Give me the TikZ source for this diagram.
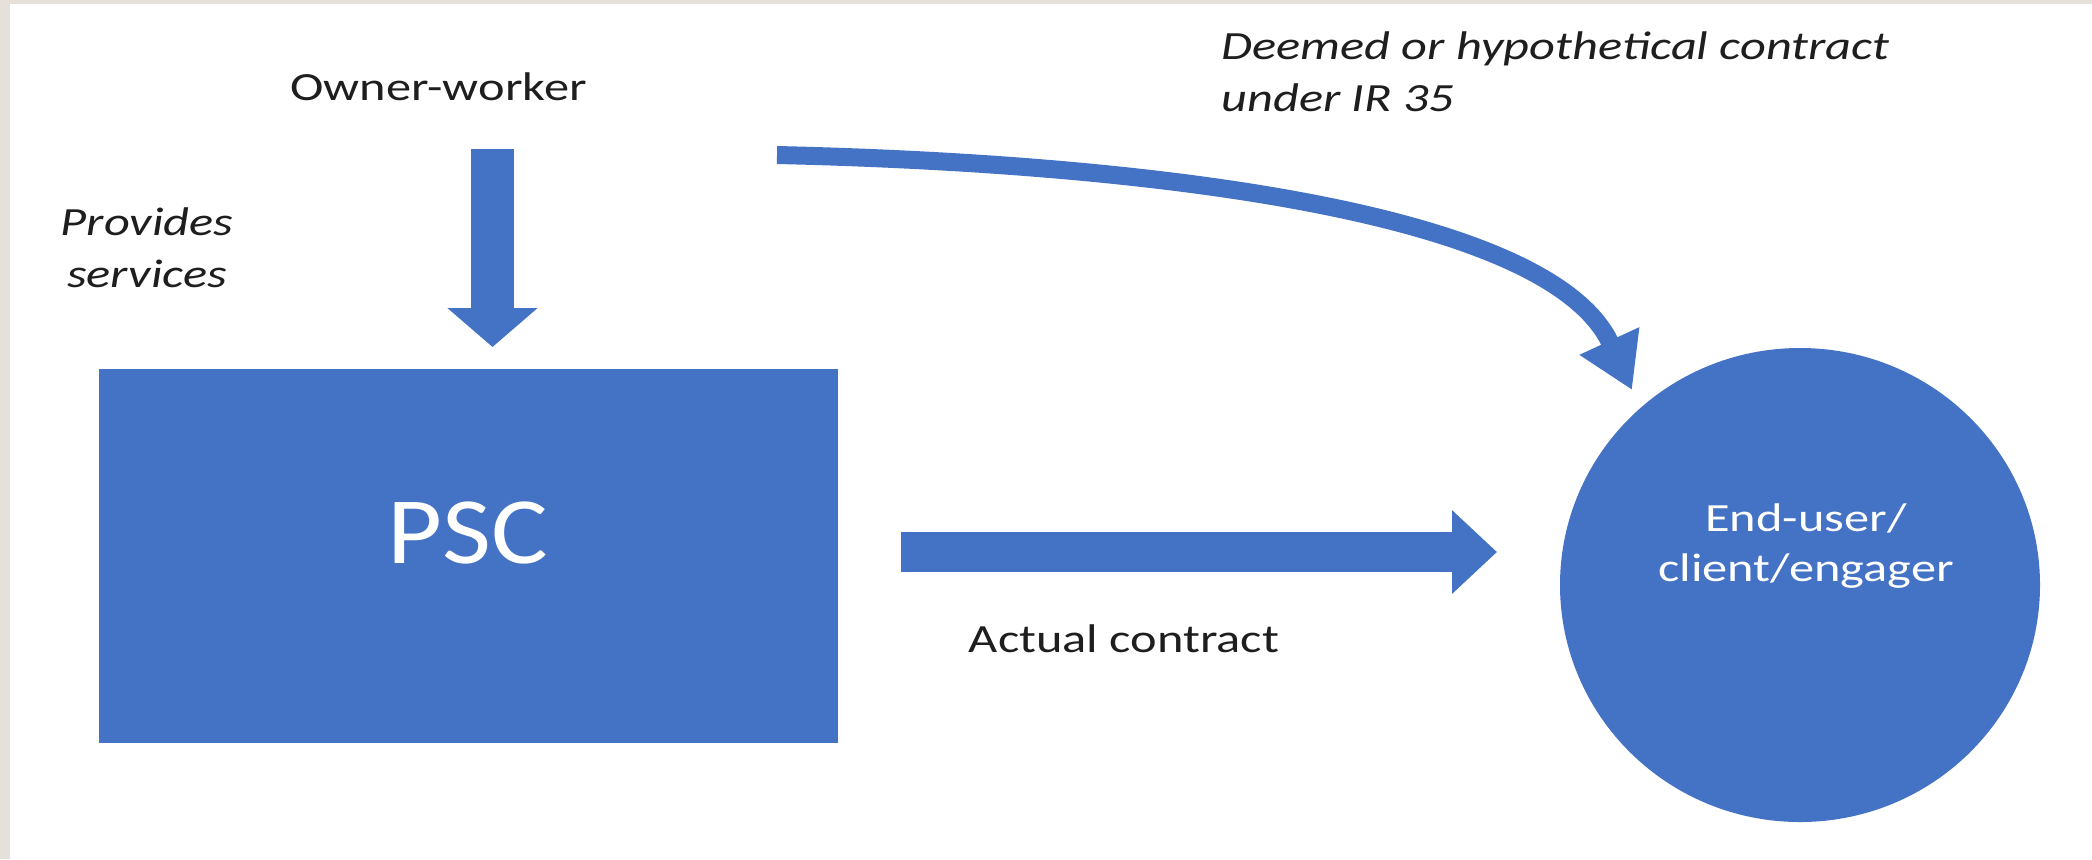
\documentclass[tikz,border=0pt]{standalone}
\usepackage{fontspec}
\setmainfont{Carlito}
\newfontfamily\lblfont[FakeStretch=1.26]{Carlito}
\newfontfamily\pscfont[FakeStretch=1.12]{Carlito}
\usetikzlibrary{arrows.meta,shapes.geometric}
\definecolor{officeblue}{HTML}{4472C4}
\definecolor{edgebeige}{HTML}{E6E0DA}
\definecolor{labelink}{HTML}{1E1E1E}
\begin{document}
\begin{tikzpicture}[x=0.5pt,y=-0.5pt,
  lbl/.style={font=\lblfont\fontsize{20pt}{26pt}\selectfont, text=labelink, inner sep=0pt},
  ilbl/.style={lbl, font=\lblfont\itshape\fontsize{20pt}{26pt}\selectfont},
  inlbl/.style={font=\lblfont\fontsize{20pt}{25pt}\selectfont, text=white, inner sep=0pt},
  blockarrow/.style={draw=officeblue, line cap=butt},
  shapefill/.style={fill=officeblue, draw=none, inner sep=0pt}]
\useasboundingbox (0,0) rectangle (2092,859);
\fill[white] (0,0) rectangle (2092,859);
\fill[edgebeige] (0,0) rectangle (10,859);
\fill[edgebeige] (0,0) rectangle (2092,4);

% shapes
\node[shapefill, rectangle, minimum width=369.5pt, minimum height=187pt] (psc) at (468.5,556) {};
\node[font=\pscfont\fontsize{47.5pt}{57pt}\selectfont, text=white, inner sep=0pt, anchor=base] (psctext) at (467.5,563) {PSC};
\node[shapefill, ellipse, minimum width=240pt, minimum height=237pt] (client) at (1800,585) {};
\node[inlbl, align=center] (clienttext) at (1806,546) {End-user/\\client/engager};

% labels
\node[lbl, anchor=base] (owner) at (438.5,100) {Owner-worker};
\node[ilbl, align=center, anchor=base] (provides) at (147,287) {Provides\\services};
\node[ilbl, align=left, anchor=base west] (deemed) at (1221,111) {Deemed or hypothetical contract\\under IR 35};
\node[lbl, anchor=base] (actual) at (1124,652) {Actual contract};

% connector end points
\coordinate (downstart) at (492.5,149);
\coordinate (downend) at (492.5,347);
\coordinate (rightstart) at (901,552);
\coordinate (rightend) at (1497,552);
\coordinate (curvestart) at (777,155);
\coordinate (curveend) at (1632,390);

% arrows
\draw[blockarrow, line width=21.5pt, -{Triangle[length=19.5pt,width=44pt]}] (downstart) -- (downend);
\draw[blockarrow, line width=20pt, -{Triangle[length=22.5pt,width=40.5pt]}] (rightstart) -- (rightend);
\draw[blockarrow, line width=9pt, -{Triangle[length=27pt,width=31pt]}] (curvestart) .. controls (1130,163) and (1548,208) .. (curveend);
\end{tikzpicture}
\end{document}
